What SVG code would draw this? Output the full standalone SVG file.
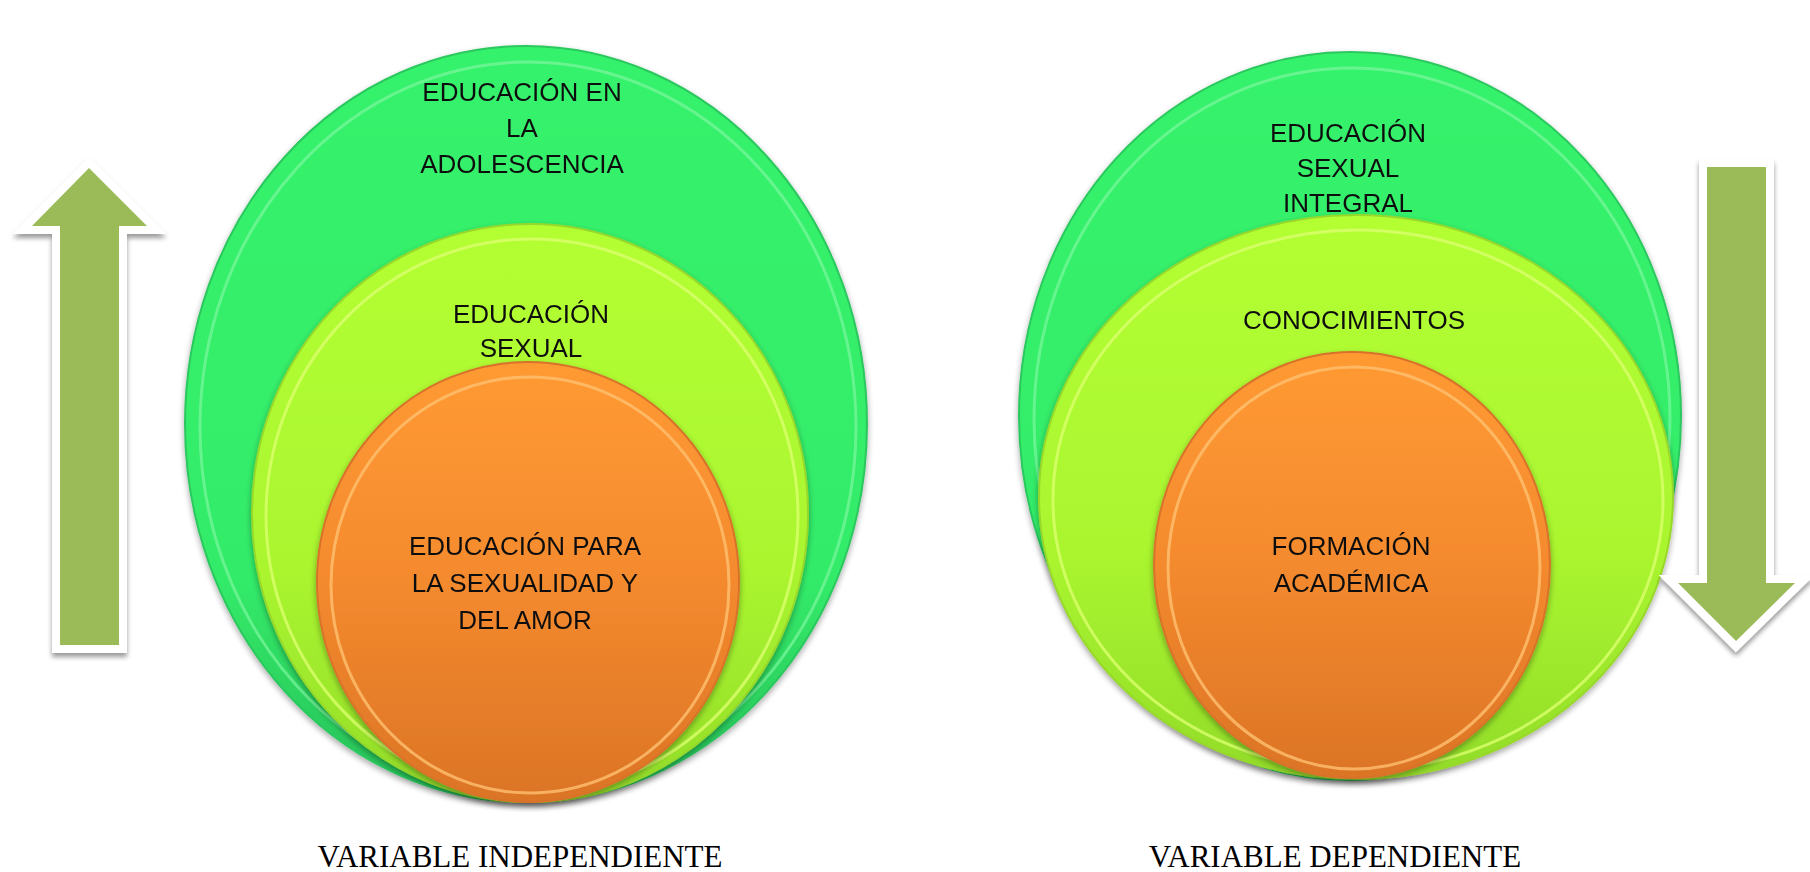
<svg xmlns="http://www.w3.org/2000/svg" width="1810" height="872" viewBox="0 0 1810 872">
<defs>
<linearGradient id="gGreen" x1="0" y1="0" x2="0" y2="1">
<stop offset="0" stop-color="#36F26C"/>
<stop offset="0.7" stop-color="#33EC69"/>
<stop offset="1" stop-color="#27BE58"/>
</linearGradient>
<linearGradient id="gLime" x1="0" y1="0" x2="0" y2="1">
<stop offset="0" stop-color="#B3FF33"/>
<stop offset="0.6" stop-color="#AAF52F"/>
<stop offset="1" stop-color="#92DC2A"/>
</linearGradient>
<linearGradient id="gOrange" x1="0" y1="0" x2="0" y2="1">
<stop offset="0" stop-color="#FF9A33"/>
<stop offset="0.5" stop-color="#F48A2E"/>
<stop offset="1" stop-color="#DB7426"/>
</linearGradient>
<filter id="shadow" x="-10%" y="-10%" width="120%" height="125%">
<feGaussianBlur in="SourceAlpha" stdDeviation="3"/>
<feOffset dx="0" dy="3" result="b"/>
<feComponentTransfer><feFuncA type="linear" slope="0.35"/></feComponentTransfer>
<feMerge><feMergeNode/><feMergeNode in="SourceGraphic"/></feMerge>
</filter>
<filter id="ashadow" x="-30%" y="-10%" width="160%" height="125%">
<feGaussianBlur in="SourceAlpha" stdDeviation="2.5"/>
<feOffset dx="0" dy="4"/>
<feComponentTransfer><feFuncA type="linear" slope="0.4"/></feComponentTransfer>
<feMerge><feMergeNode/><feMergeNode in="SourceGraphic"/></feMerge>
</filter>
</defs>
<style>
.lbl{font-family:"Liberation Sans",Arial,sans-serif;font-size:26px;fill:#111;text-anchor:middle}
.cap{font-family:"Liberation Serif","Times New Roman",serif;font-size:31px;fill:#000;text-anchor:middle}
.rimG{fill:none;stroke:#7CF79E;stroke-width:3;opacity:0.7}
.rimL{fill:none;stroke:#DBFF6E;stroke-width:3;opacity:0.8}
.rimO{fill:none;stroke:#FFC070;stroke-width:3;opacity:0.8}
.arrowBg{fill:#FFFFFF;stroke:#FFFFFF;stroke-width:16;stroke-linejoin:miter}
.arrow{fill:#9BBB59}
</style>
<rect width="1810" height="872" fill="#FFFFFF"/>

<g id="left-outer" filter="url(#shadow)">
<ellipse cx="526" cy="424" rx="341" ry="378" fill="url(#gGreen)" stroke="#2CC85E" stroke-width="2"/>
<ellipse class="rimG" cx="528" cy="427" rx="328" ry="365"/>
<text class="lbl" x="522" y="101">EDUCACIÓN EN</text>
<text class="lbl" x="522" y="137">LA</text>
<text class="lbl" x="522" y="173">ADOLESCENCIA</text>
</g>
<g id="left-middle" filter="url(#shadow)">
<ellipse cx="530" cy="513" rx="278" ry="289" fill="url(#gLime)" stroke="#98D82C" stroke-width="2"/>
<ellipse class="rimL" cx="532" cy="516" rx="266" ry="277"/>
<text class="lbl" x="531" y="323">EDUCACIÓN</text>
<text class="lbl" x="531" y="357">SEXUAL</text>
</g>
<g id="left-inner" filter="url(#shadow)">
<ellipse cx="528" cy="582" rx="211" ry="220" fill="url(#gOrange)" stroke="#D8722A" stroke-width="2"/>
<ellipse class="rimO" cx="530" cy="585" rx="199" ry="208"/>
<text class="lbl" x="525" y="555">EDUCACIÓN PARA</text>
<text class="lbl" x="525" y="592">LA SEXUALIDAD Y</text>
<text class="lbl" x="525" y="629">DEL AMOR</text>
</g>

<g id="right-outer" filter="url(#shadow)">
<ellipse cx="1350" cy="416" rx="331" ry="364" fill="url(#gGreen)" stroke="#2CC85E" stroke-width="2"/>
<ellipse class="rimG" cx="1352" cy="419" rx="318" ry="351"/>
<text class="lbl" x="1348" y="142">EDUCACIÓN</text>
<text class="lbl" x="1348" y="177">SEXUAL</text>
<text class="lbl" x="1348" y="212">INTEGRAL</text>
</g>
<g id="right-middle" filter="url(#shadow)">
<ellipse cx="1356" cy="497" rx="317" ry="282" fill="url(#gLime)" stroke="#98D82C" stroke-width="2"/>
<ellipse class="rimL" cx="1358" cy="500" rx="305" ry="270"/>
<text class="lbl" x="1354" y="329">CONOCIMIENTOS</text>
</g>
<g id="right-inner" filter="url(#shadow)">
<ellipse cx="1352" cy="565" rx="198" ry="213" fill="url(#gOrange)" stroke="#D8722A" stroke-width="2"/>
<ellipse class="rimO" cx="1354" cy="568" rx="186" ry="201"/>
<text class="lbl" x="1351" y="555">FORMACIÓN</text>
<text class="lbl" x="1351" y="592">ACADÉMICA</text>
</g>

<g id="connectors">
<g id="arrow-up" filter="url(#ashadow)">
<path class="arrowBg" d="M89,168 L147,226 L119,226 L119,645 L60,645 L60,226 L32,226 Z"/>
<path class="arrow" d="M89,168 L147,226 L119,226 L119,645 L60,645 L60,226 L32,226 Z"/>
</g>
<g id="arrow-down" filter="url(#ashadow)">
<path class="arrowBg" d="M1707,167 L1766,167 L1766,583 L1795,583 L1736,641 L1678,583 L1707,583 Z"/>
<path class="arrow" d="M1707,167 L1766,167 L1766,583 L1795,583 L1736,641 L1678,583 L1707,583 Z"/>
</g>
</g>

<g id="captions">
<text class="cap" x="520" y="867">VARIABLE INDEPENDIENTE</text>
<text class="cap" x="1335" y="867">VARIABLE DEPENDIENTE</text>
</g>
</svg>
